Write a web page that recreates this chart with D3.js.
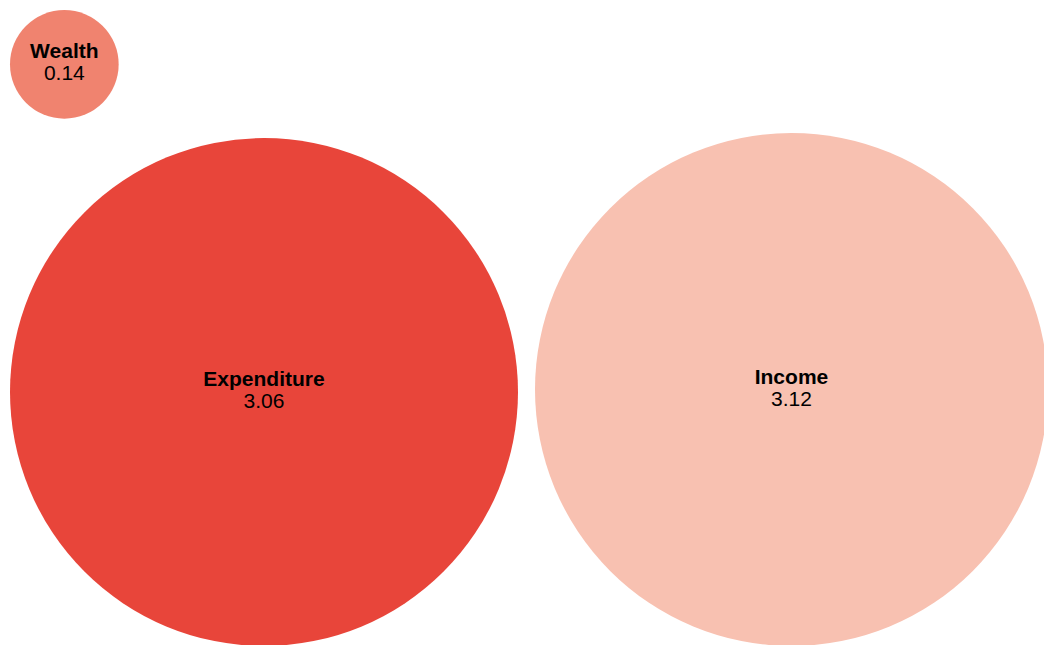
<!DOCTYPE html>
<html>
<head>
<meta charset="utf-8">
<script src="https://cdn.jsdelivr.net/npm/d3@7"></script>
<style>
  html, body { margin: 0; padding: 0; background: #ffffff; overflow: hidden; }
  svg { display: block; }
  text { font-family: "Liberation Sans", Arial, sans-serif; }
</style>
</head>
<body>
<svg id="chart" width="1044" height="645"></svg>
<script>
// ---- data ----
const categories = ["Wealth", "Expenditure", "Income"];
const values = [0.14, 3.06, 3.12];
const colors = ["#f0836f", "#e8453a", "#f8c1b1"];

const width = 1044, height = 645;
const margin = 10;
const gap = 17;
const baseLine = height + 1;

const svg = d3.select("#chart");

const rScale = d3.scaleSqrt().domain([0, 3.06]).range([0, 254]);

const nodes = categories.map((c, i) => ({ name: c, value: values[i], color: colors[i], r: rScale(values[i]) }));
const byName = Object.fromEntries(nodes.map(n => [n.name, n]));

// layout: small bubble top-left, the two large bubbles bottom-aligned side by side
const w = byName["Wealth"], e = byName["Expenditure"], inc = byName["Income"];
w.x = margin + w.r; w.y = margin + w.r;
e.x = margin + e.r; e.y = baseLine - e.r;
inc.x = e.x + e.r + gap + inc.r; inc.y = baseLine - inc.r;

const g = svg.selectAll("g.bubble").data(nodes).join("g")
  .attr("class", "bubble")
  .attr("transform", d => `translate(${d.x},${d.y})`);

g.append("circle")
  .attr("r", d => d.r)
  .attr("fill", d => d.color);

g.append("text")
  .attr("text-anchor", "middle")
  .attr("y", -6)
  .attr("font-size", 21)
  .attr("font-weight", "bold")
  .attr("fill", "#000")
  .text(d => d.name);

g.append("text")
  .attr("text-anchor", "middle")
  .attr("y", 16)
  .attr("font-size", 21)
  .attr("fill", "#000")
  .text(d => d3.format(".2f")(d.value));
</script>
</body>
</html>
